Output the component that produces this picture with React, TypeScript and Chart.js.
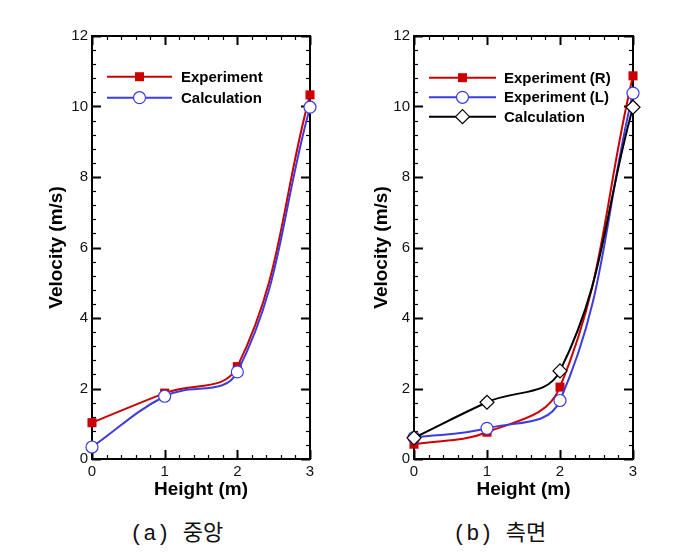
import React, { useEffect, useRef } from 'react';
import { Chart, registerables } from 'chart.js';

Chart.register(...registerables);

// ---- data ----
const heights = [0, 1, 2, 3];
const xTickValues = [0, 1, 2, 3];
const yTickValues = [0, 2, 4, 6, 8, 10, 12];

const centerExperiment = [1.03, 1.87, 2.62, 10.33];
const centerCalculation = [0.34, 1.78, 2.47, 9.98];

const sideExperimentR = [0.42, 0.76, 2.04, 10.87];
const sideExperimentL = [0.61, 0.87, 1.66, 10.38];
const sideCalculation = [0.6, 1.61, 2.5, 9.98];

const captionA = '(a) 중앙';
const captionB = '(b) 측면';

// ---- styles ----
const RED = '#cc0000';
const BLUE = '#3c3ce0';
const BLACK = '#000000';
const FONT = '"Liberation Sans", Arial, sans-serif';

type Marker = 'rect' | 'circle' | 'rectRot';

interface SeriesDef {
  label: string;
  values: number[];
  color: string;
  marker: Marker;
  fill: string;
  order: number;
}

function makeDataset(s: SeriesDef) {
  const radius = s.marker === 'rect' ? 6.4 : s.marker === 'circle' ? 6 : 7;
  return {
    label: s.label,
    data: heights.map((x, i) => ({ x, y: s.values[i] })),
    borderColor: s.color,
    backgroundColor: s.fill,
    borderWidth: 2,
    tension: 0.4,
    pointStyle: s.marker,
    pointRadius: radius,
    pointHoverRadius: radius,
    pointBackgroundColor: s.fill,
    pointBorderColor: s.marker === 'rect' ? s.color : s.color,
    pointBorderWidth: s.marker === 'rect' ? 0 : 1.2,
    order: s.order,
    clip: false as any,
    _marker: s.marker,
  };
}

function drawMarker(ctx: CanvasRenderingContext2D, marker: Marker, x: number, y: number, color: string, fill: string) {
  ctx.save();
  ctx.fillStyle = fill;
  ctx.strokeStyle = color;
  ctx.lineWidth = 1.2;
  ctx.beginPath();
  if (marker === 'rect') {
    const h = 4.5;
    ctx.rect(x - h, y - h, 2 * h, 2 * h);
    ctx.fill();
  } else if (marker === 'circle') {
    ctx.arc(x, y, 6, 0, Math.PI * 2);
    ctx.fill();
    ctx.stroke();
  } else {
    const r = 7;
    ctx.moveTo(x, y - r);
    ctx.lineTo(x + r, y);
    ctx.lineTo(x, y + r);
    ctx.lineTo(x - r, y);
    ctx.closePath();
    ctx.fill();
    ctx.stroke();
  }
  ctx.restore();
}

const framePlugin = {
  id: 'frameTicks',
  beforeDatasetsDraw(chart: any) {
    const { ctx, chartArea } = chart;
    const xs = chart.scales.x;
    const ys = chart.scales.y;
    const { left, right, top, bottom } = chartArea;
    ctx.save();
    ctx.strokeStyle = '#000';
    ctx.lineCap = 'butt';
    const line = (x1: number, y1: number, x2: number, y2: number) => {
      ctx.beginPath();
      ctx.moveTo(x1, y1);
      ctx.lineTo(x2, y2);
      ctx.stroke();
    };
    // x ticks: majors every 1, minors every 0.2
    for (let k = 0; k <= 15; k++) {
      const v = k * 0.2;
      const px = Math.round(xs.getPixelForValue(v)) + 0.5;
      const major = k % 5 === 0;
      ctx.lineWidth = major ? 2 : 1.2;
      const len = major ? 9 : 4;
      line(px, bottom, px, bottom - len);
      line(px, top, px, top + len);
    }
    // y ticks: majors every 2, minors every 0.4
    for (let k = 0; k <= 30; k++) {
      const v = k * 0.4;
      const py = Math.round(ys.getPixelForValue(v)) + 0.5;
      const major = k % 5 === 0;
      ctx.lineWidth = major ? 2 : 1.2;
      const len = major ? 9 : 4;
      line(left, py, left + len, py);
      line(right, py, right - len, py);
    }
    ctx.lineWidth = 2;
    ctx.strokeRect(left, top, right - left, bottom - top);
    ctx.restore();
  },
};

const legendPlugin = {
  id: 'insideLegend',
  afterDatasetsDraw(chart: any, _args: any, opts: any) {
    const { ctx } = chart;
    const { lineX0, lineX1, markerX, textX, rows } = opts;
    ctx.save();
    chart.data.datasets.forEach((ds: any, i: number) => {
      const y = rows[i];
      ctx.strokeStyle = ds.borderColor;
      ctx.lineWidth = 2;
      ctx.beginPath();
      ctx.moveTo(lineX0, y);
      ctx.lineTo(lineX1, y);
      ctx.stroke();
      drawMarker(ctx, ds._marker, markerX, y, ds.borderColor, ds.backgroundColor);
      ctx.fillStyle = '#000';
      ctx.font = `bold 15px ${FONT}`;
      ctx.textAlign = 'left';
      ctx.textBaseline = 'middle';
      ctx.fillText(ds.label, textX, y + 1);
    });
    ctx.restore();
  },
};

function buildConfig(series: SeriesDef[], pad: { left: number; right: number }, yTitlePad: number, legend: any) {
  return {
    type: 'line' as const,
    data: { datasets: series.map(makeDataset) },
    plugins: [framePlugin, legendPlugin],
    options: {
      animation: false as const,
      responsive: false,
      devicePixelRatio: 1,
      events: [],
      layout: { padding: { left: pad.left, right: pad.right, top: 36, bottom: 6 } },
      plugins: {
        legend: { display: false },
        tooltip: { enabled: false },
        insideLegend: legend,
      },
      scales: {
        x: {
          type: 'linear' as const,
          min: 0,
          max: 3,
          grid: { display: false, drawTicks: false },
          border: { display: false },
          afterBuildTicks: (scale: any) => {
            scale.ticks = xTickValues.map((v) => ({ value: v }));
          },
          afterFit: (scale: any) => {
            scale.height = 45;
          },
          ticks: {
            padding: 4,
            color: '#111',
            font: { family: FONT, size: 15 },
            maxRotation: 0,
          },
          title: {
            display: true,
            text: 'Height (m)',
            color: '#000',
            font: { family: FONT, size: 19, weight: 'bold' as const },
            padding: { top: 0, bottom: 2.6 },
          },
        },
        y: {
          type: 'linear' as const,
          min: 0,
          max: 12,
          grid: { display: false, drawTicks: false },
          border: { display: false },
          afterBuildTicks: (scale: any) => {
            scale.ticks = yTickValues.map((v) => ({ value: v }));
          },
          afterFit: (scale: any) => {
            scale.width = 52;
          },
          ticks: {
            padding: 4,
            color: '#111',
            font: { family: FONT, size: 15 },
          },
          title: {
            display: true,
            text: 'Velocity (m/s)',
            color: '#000',
            font: { family: FONT, size: 19, weight: 'bold' as const },
            padding: { top: yTitlePad, bottom: 0 },
          },
        },
      },
    },
  };
}

function ChartCanvas(props: { config: any; left: number; width: number; height: number }) {
  const ref = useRef<HTMLCanvasElement | null>(null);
  useEffect(() => {
    if (!ref.current) return;
    const chart = new Chart(ref.current, props.config);
    return () => chart.destroy();
  }, []);
  return (
    <canvas
      ref={ref}
      width={props.width}
      height={props.height}
      style={{ position: 'absolute', left: props.left, top: 0, width: props.width, height: props.height }}
    />
  );
}

const leftSeries: SeriesDef[] = [
  { label: 'Experiment', values: centerExperiment, color: RED, marker: 'rect', fill: RED, order: 1 },
  { label: 'Calculation', values: centerCalculation, color: BLUE, marker: 'circle', fill: '#ffffff', order: 0 },
];

const rightSeries: SeriesDef[] = [
  { label: 'Experiment (R)', values: sideExperimentR, color: RED, marker: 'rect', fill: RED, order: 2 },
  { label: 'Experiment (L)', values: sideExperimentL, color: BLUE, marker: 'circle', fill: '#ffffff', order: 1 },
  { label: 'Calculation', values: sideCalculation, color: BLACK, marker: 'rectRot', fill: '#ffffff', order: 0 },
];

export default function App() {
  const leftConfig = buildConfig(leftSeries, { left: 40, right: 27 }, 5.6, {
    lineX0: 107,
    lineX1: 172,
    markerX: 139.5,
    textX: 181,
    rows: [76.7, 97.7],
  });
  const rightConfig = buildConfig(rightSeries, { left: 25, right: 42 }, 8.6, {
    lineX0: 429 - 337,
    lineX1: 496 - 337,
    markerX: 462.5 - 337,
    textX: 504 - 337,
    rows: [77.7, 97.3, 116.7],
  });
  const captionStyle: React.CSSProperties = {
    position: 'absolute',
    top: 519,
    fontFamily: '"Liberation Mono", "Noto Sans CJK KR", monospace',
    fontSize: 22,
    lineHeight: '32px',
    whiteSpace: 'pre',
    color: '#111',
  };
  return (
    <div style={{ position: 'absolute', left: 0, top: 0, width: 675, height: 559, background: '#fff', overflow: 'hidden' }}>
      <ChartCanvas config={leftConfig} left={0} width={337} height={510} />
      <ChartCanvas config={rightConfig} left={337} width={338} height={510} />
      <div style={{ ...captionStyle, left: 130 }}>{captionA}</div>
      <div style={{ ...captionStyle, left: 453 }}>{captionB}</div>
    </div>
  );
}
